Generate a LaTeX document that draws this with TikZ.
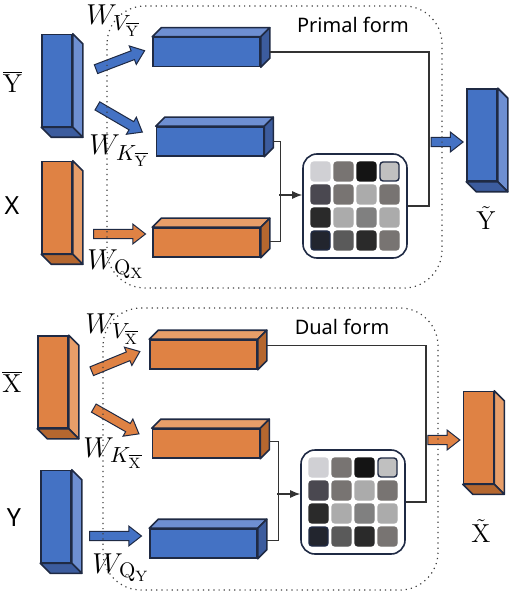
\documentclass[tikz,border=0pt]{standalone}
\usepackage{fontspec}
\setsansfont{Noto Sans}
\usetikzlibrary{shapes.arrows,arrows.meta}

\definecolor{boxblue}{HTML}{4472C4}
\definecolor{boxblueL}{HTML}{6E8FD2}
\definecolor{boxblueD}{HTML}{3C5C9E}
\definecolor{boxorange}{HTML}{DF8244}
\definecolor{boxorangeL}{HTML}{E89E69}
\definecolor{boxorangeD}{HTML}{B5672F}
\definecolor{edge}{HTML}{1F2A44}
\definecolor{mLight}{HTML}{D0D0D4}
\definecolor{mGray}{HTML}{787472}
\definecolor{mBlack}{HTML}{141414}
\definecolor{mSilver}{HTML}{C0C0C0}
\definecolor{mSlate}{HTML}{4A4850}
\definecolor{mPale}{HTML}{ABABAB}
\definecolor{mMid}{HTML}{808080}
\definecolor{mDark}{HTML}{2A2A2A}
\definecolor{mNight}{HTML}{22252E}
\definecolor{mDim}{HTML}{5A5A5A}

% top and right faces of a lying block
\newcommand{\lyingfaces}[3]{%
  \filldraw[fill=#2, draw=edge, line width=0.8pt, line join=round] (#1.north west) -- ++(9,-9) -- ([shift={(9,-9)}]#1.north east) -- (#1.north east) -- cycle;
  \filldraw[fill=#3, draw=edge, line width=0.8pt, line join=round] (#1.north east) -- ++(9,-9) -- ([shift={(9,-9)}]#1.south east) -- (#1.south east) -- cycle;}
% right and bottom faces of a standing block
\newcommand{\standingfaces}[3]{%
  \filldraw[fill=#2, draw=edge, line width=0.8pt, line join=round] (#1.north east) -- ++(10,10) -- ([shift={(10,10)}]#1.south east) -- (#1.south east) -- cycle;
  \filldraw[fill=#3, draw=edge, line width=0.8pt, line join=round] (#1.south west) -- ++(10,10) -- ([shift={(10,10)}]#1.south east) -- (#1.south east) -- cycle;}
% 4x4 attention map inside a node
\newcommand{\attnmap}[1]{%
  \foreach \fc/\ec [count=\i from 0] in {mLight/mLight, mGray/mGray, mBlack/mBlack, mSilver/edge,
      mSlate/mSlate, mGray/mGray, mPale/mPale, mGray/mGray,
      mDark/mDark, mPale/mPale, mMid/mMid, mPale/mPale,
      mNight/edge, mDim/mDim, mDark/mDark, mGray/mGray}{
    \pgfmathtruncatemacro{\cc}{mod(\i,4)}
    \pgfmathtruncatemacro{\rr}{div(\i,4)}
    \node[cell, fill=\fc, draw=\ec] (#1-\rr\cc) at ([shift={(-34.5+23*\cc,-34.5+23*\rr)}]#1.center) {};
  }}

\begin{document}
\begin{tikzpicture}[x=0.5pt, y=-0.5pt,
  hblock/.style={rectangle, draw=edge, line width=0.8pt, minimum width=53.5pt, minimum height=14.5pt, inner sep=0pt},
  vblock/.style={rectangle, draw=edge, line width=0.8pt, minimum width=15pt, minimum height=46pt, inner sep=0pt},
  attn/.style={rectangle, draw=edge, line width=0.8pt, rounded corners=7pt, minimum size=52pt, inner sep=0pt},
  cell/.style={rectangle, rounded corners=1.5pt, minimum size=9.5pt, inner sep=0pt, line width=0.7pt},
  barrow/.style={single arrow, draw=edge, line width=0.5pt, inner sep=0pt, inner ysep=2.1pt, minimum height=#1, single arrow head extend=2.6pt, single arrow tip angle=76, sloped},
  wire/.style={draw=black!80, line width=0.6pt},
  frame/.style={draw=black!75, dotted, line width=0.6pt, rounded corners=19pt},
  wlab/.style={inner sep=0pt, anchor=base west, font=\fontsize{15}{17}\selectfont},
  biglab/.style={inner sep=0pt, font=\fontsize{13}{15}\selectfont},
  title/.style={inner sep=0pt, font=\sffamily\fontsize{10}{12}\selectfont}
]
\useasboundingbox (0,0) rectangle (518,592);

% Primal form
\node[vblock, fill=boxblue] (yb) at (57,80.5) {};
\standingfaces{yb}{boxblueL}{boxblueD}
\node[vblock, fill=boxorange] (xa) at (57,207.5) {};
\standingfaces{xa}{boxorangeL}{boxorangeD}
\node[hblock, fill=boxblue] (vY) at (206.5,52) {};
\lyingfaces{vY}{boxblueL}{boxblueD}
\node[hblock, fill=boxblue] (kY) at (210,141.5) {};
\lyingfaces{kY}{boxblueL}{boxblueD}
\node[hblock, fill=boxorange] (qY) at (206.5,242.5) {};
\lyingfaces{qY}{boxorangeL}{boxorangeD}
\node[attn] (mY) at (355,206) {};
\attnmap{mY}
\node[vblock, fill=boxblue] (yt) at (482,135) {};
\standingfaces{yt}{boxblueL}{boxblueD}
\coordinate (jY) at (279,195);
\coordinate (rY) at (429,142);

\path ([shift={(21,-10.5)}]yb.east) -- node[barrow=26pt, fill=boxblue] {} ([shift={(-11,0)}]vY.west);
\path ([shift={(23,24.5)}]yb.east) -- node[barrow=26pt, fill=boxblue] {} ([shift={(-17,-11.5)}]kY.west);
\path ([shift={(19,26.5)}]xa.east) -- node[barrow=26pt, fill=boxorange] {} ([shift={(-11,-8.5)}]qY.west);
\draw[wire] ([shift={(9,0)}]vY.east) -| (rY) |- (mY.east);
\draw[wire] ([shift={(9,0)}]kY.east) -- ++(7,0) |- ([shift={(9,-1)}]qY.east);
\draw[wire, -{Latex[length=5pt,width=4pt]}] (jY) -- (jY -| mY.west);
\path (rY) -- node[barrow=16pt, fill=boxblue] {} ([shift={(-7,7)}]yt.west);

\node[biglab] (lyb) at (12.5,82) {$\overline{\mathrm{Y}}$};
\node[biglab, font=\sffamily\fontsize{12.5}{15}\selectfont] (lxa) at (12,206) {X};
\node[biglab] (lyt) at (486,218) {$\tilde{\mathrm{Y}}$};
\node[wlab] (wvy) at (86,25) {$W_{V_{\overline{\mathrm{Y}}}}$};
\node[wlab] (wky) at (89,155) {$W_{K_{\overline{\mathrm{Y}}}}$};
\node[wlab] (wqx) at (87,270) {$W_{\mathrm{Q}_{\mathrm{X}}}$};
\node[title] (tp) at (353,25) {Primal form};

% Dual form
\node[vblock, fill=boxorange] (xb) at (53,382) {};
\standingfaces{xb}{boxorangeL}{boxorangeD}
\node[vblock, fill=boxblue] (ya) at (56,516.5) {};
\standingfaces{ya}{boxblueL}{boxblueD}
\node[hblock, fill=boxorange] (vX) at (203.5,354.5) {};
\lyingfaces{vX}{boxorangeL}{boxorangeD}
\node[hblock, fill=boxorange] (kX) at (206,443.5) {};
\lyingfaces{kX}{boxorangeL}{boxorangeD}
\node[hblock, fill=boxblue] (qX) at (203.5,543.5) {};
\lyingfaces{qX}{boxblueL}{boxblueD}
\node[attn] (mX) at (353,502) {};
\attnmap{mX}
\node[vblock, fill=boxorange] (xt) at (478.5,437.5) {};
\standingfaces{xt}{boxorangeL}{boxorangeD}
\coordinate (jX) at (277,494);
\coordinate (rX) at (426,440);

\path ([shift={(21,-10)}]xb.east) -- node[barrow=26pt, fill=boxorange] {} ([shift={(-13,-1.5)}]vX.west);
\path ([shift={(23,25)}]xb.east) -- node[barrow=26pt, fill=boxorange] {} ([shift={(-16,-11.5)}]kX.west);
\path ([shift={(16,19.5)}]ya.east) -- node[barrow=26pt, fill=boxblue] {} ([shift={(-12,-7.5)}]qX.west);
\draw[wire] ([shift={(9,-9)}]vX.east) -| (rX) |- (mX.east);
\draw[wire] ([shift={(9,-2)}]kX.east) -- ++(9,0) |- ([shift={(9,-3)}]qX.east);
\draw[wire, -{Latex[length=5pt,width=4pt]}] (jX) -- (jX -| mX.west);
\path (rX) -- node[barrow=16pt, fill=boxorange] {} ([shift={(-7,2.5)}]xt.west);

\node[biglab] (lxb) at (12,382) {$\overline{\mathrm{X}}$};
\node[biglab, font=\sffamily\fontsize{12.5}{15}\selectfont] (lya) at (14,518) {Y};
\node[biglab] (lxt) at (481,531) {$\tilde{\mathrm{X}}$};
\node[wlab] (wvx) at (85,333) {$W_{V_{\overline{\mathrm{X}}}}$};
\node[wlab] (wkx) at (83,457) {$W_{K_{\overline{\mathrm{X}}}}$};
\node[wlab] (wqy) at (92,573) {$W_{\mathrm{Q}_{\mathrm{Y}}}$};
\node[title] (td) at (342,327) {Dual form};

% frames
\draw[frame] (107,6) rectangle (442,288);
\draw[frame] (103,308) rectangle (438,590);
\end{tikzpicture}
\end{document}
